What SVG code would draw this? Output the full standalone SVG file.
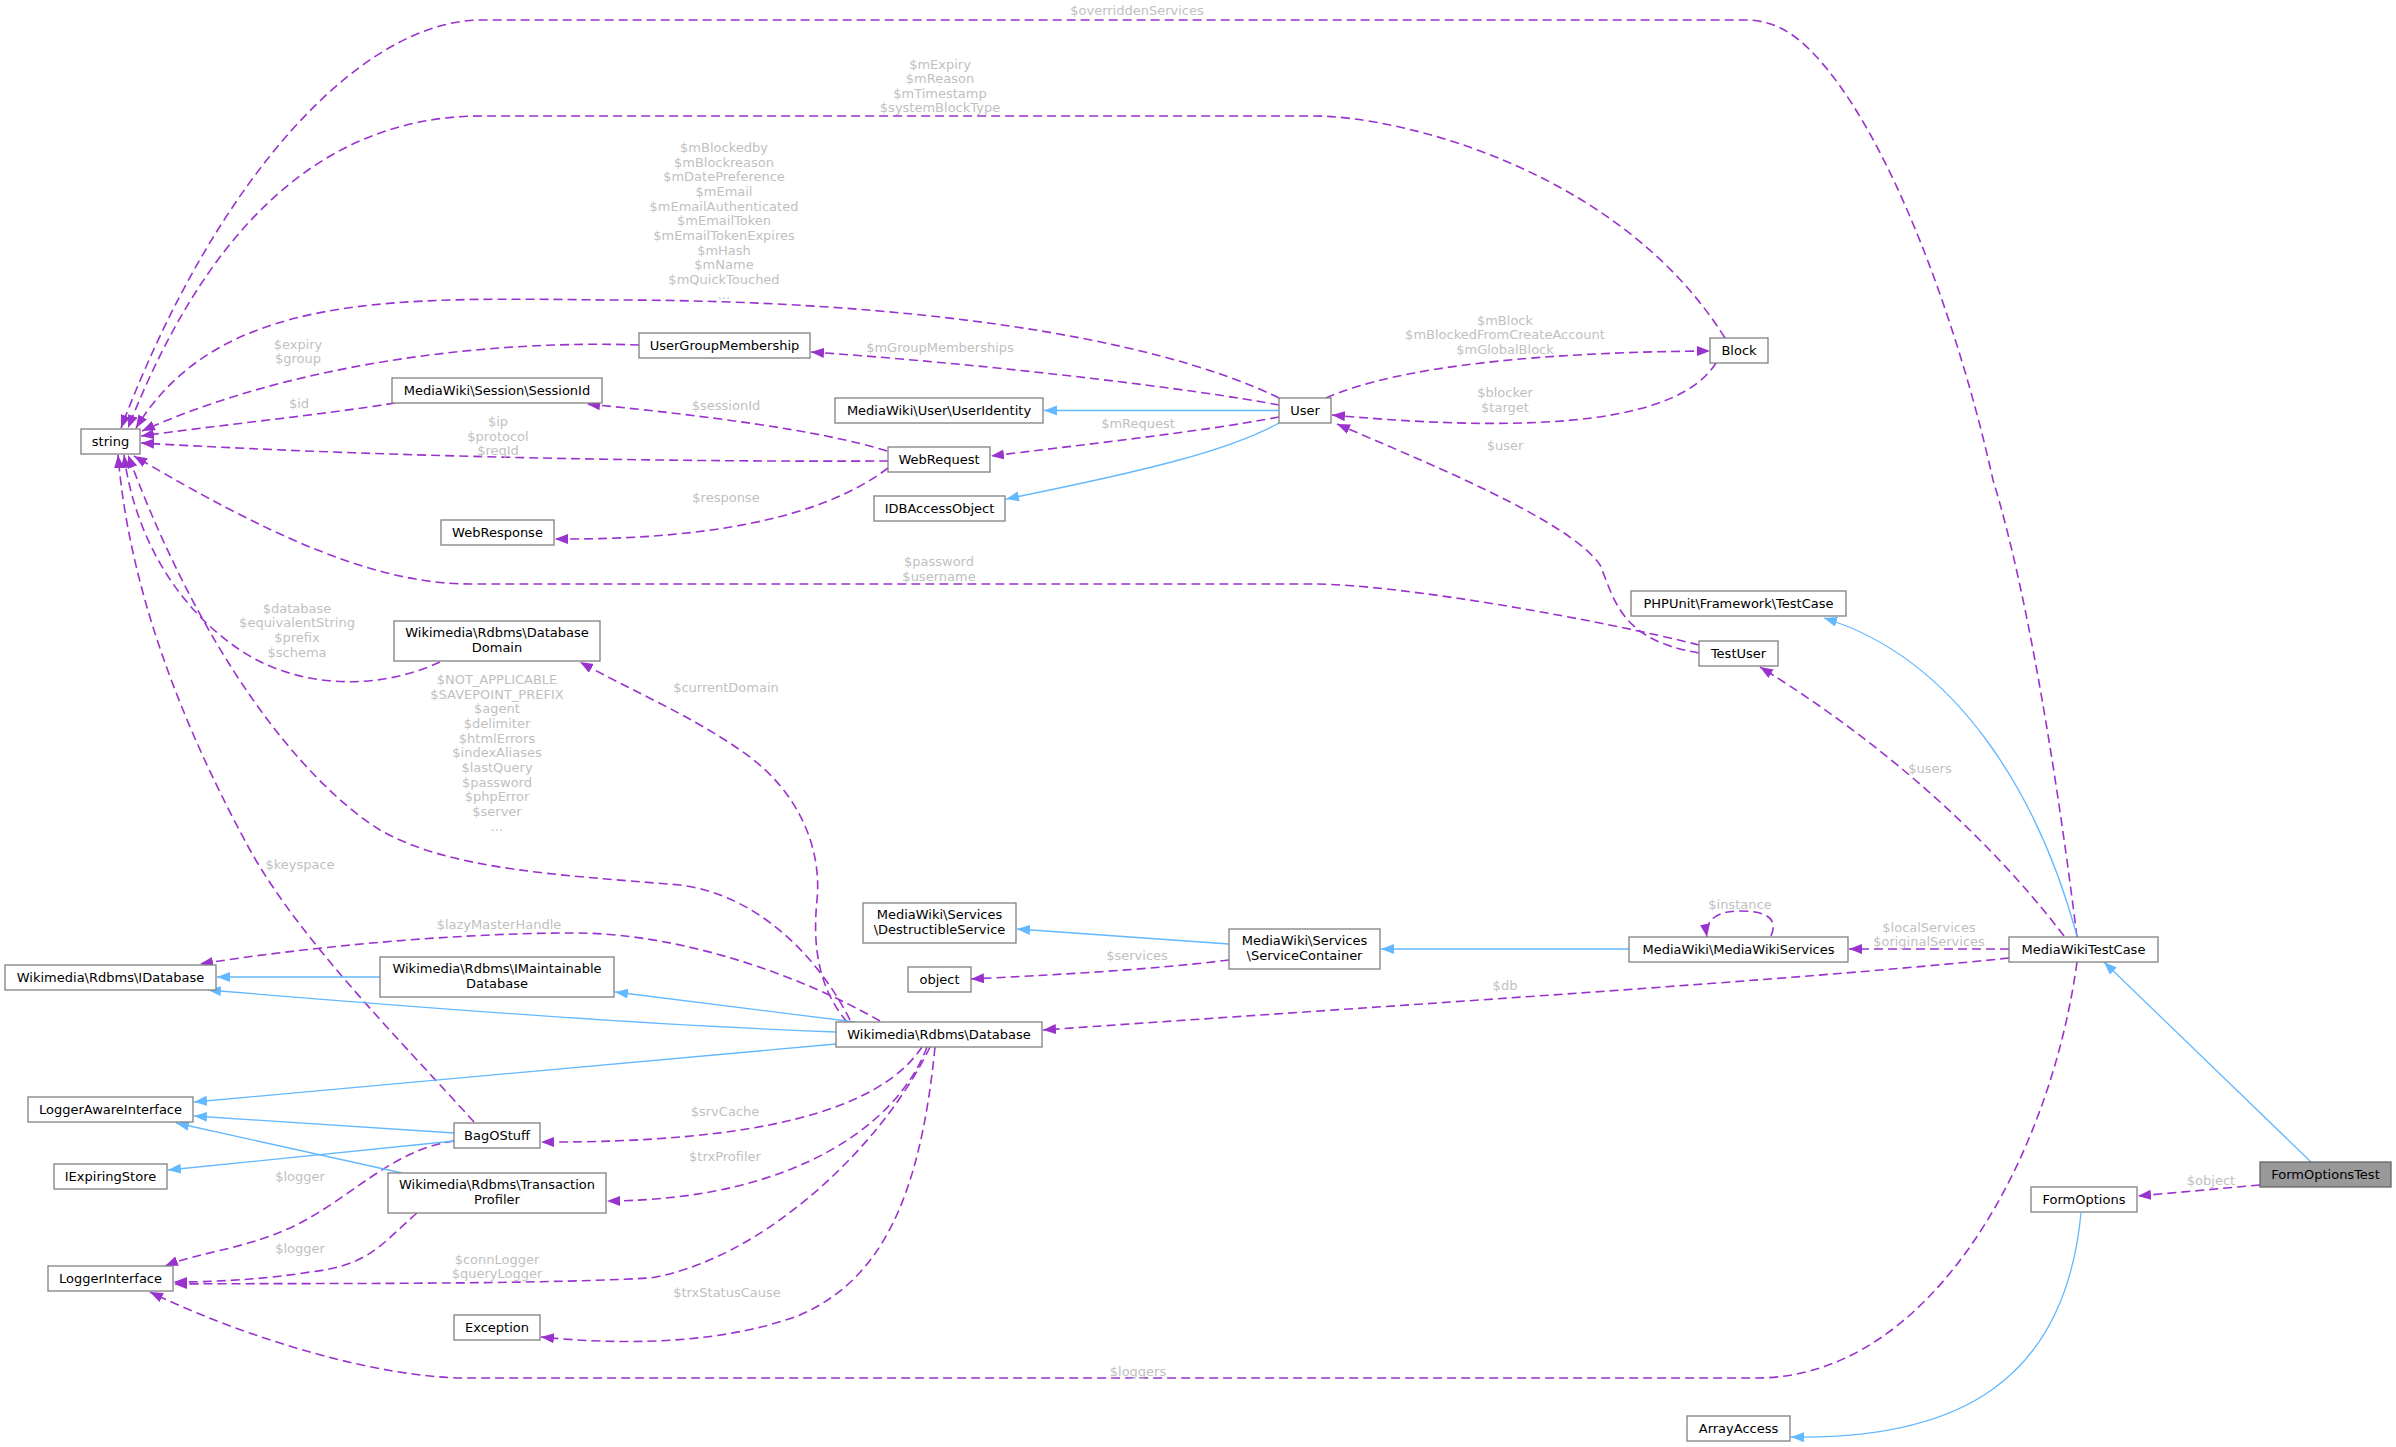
<svg xmlns="http://www.w3.org/2000/svg" width="2396" height="1447" viewBox="0 0 2396 1447">
<style>
.node rect{fill:#ffffff;stroke:#808080;stroke-width:1.3}
.node.hl rect{fill:#999999;stroke:#666666}
.node text{font-family:"DejaVu Sans",sans-serif;font-size:13px;fill:#000;text-anchor:middle}
.u{fill:none;stroke:#9a32cd;stroke-width:1.6;stroke-dasharray:9,5;marker-end:url(#ap)}
.i{fill:none;stroke:#63b8ff;stroke-width:1.3;marker-end:url(#ab)}
.lb{font-family:"DejaVu Sans",sans-serif;font-size:13px;fill:#bfbfbf;text-anchor:middle}
</style>
<defs>
<marker id="ap" markerUnits="userSpaceOnUse" markerWidth="14" markerHeight="11" refX="13" refY="5" orient="auto"><path d="M0,0 L13,5 L0,10 z" fill="#9a32cd"/></marker>
<marker id="ab" markerUnits="userSpaceOnUse" markerWidth="14" markerHeight="11" refX="13" refY="5" orient="auto"><path d="M0,0 L13,5 L0,10 z" fill="#63b8ff"/></marker>
</defs>
<rect width="2396" height="1447" fill="#ffffff"/>
<g id="edges">
<path class="u" d="M2077,937 C2060,800 2030,600 1993,480 C1960,330 1890,130 1810,50 C1790,30 1770,20 1745,20 L482,20 C360,20 215,180 121,428"/>
<text class="lb" x="1137" y="15">$overriddenServices</text>
<path class="u" d="M1725,338 C1620,170 1400,116 1314,116 L482,116 C310,116 200,245 128,428"/>
<text class="lb"><tspan x="940" y="68.5">$mExpiry</tspan><tspan x="940" y="83">$mReason</tspan><tspan x="940" y="97.5">$mTimestamp</tspan><tspan x="940" y="112">$systemBlockType</tspan></text>
<path class="u" d="M1279,398 C1150,335 900,300 612,300 C400,298 220,290 136,428"/>
<text class="lb"><tspan x="724" y="152">$mBlockedby</tspan><tspan x="724" y="166.7">$mBlockreason</tspan><tspan x="724" y="181.3">$mDatePreference</tspan><tspan x="724" y="196">$mEmail</tspan><tspan x="724" y="210.7">$mEmailAuthenticated</tspan><tspan x="724" y="225.3">$mEmailToken</tspan><tspan x="724" y="240">$mEmailTokenExpires</tspan><tspan x="724" y="254.7">$mHash</tspan><tspan x="724" y="269.3">$mName</tspan><tspan x="724" y="284">$mQuickTouched</tspan><tspan x="724" y="298.7">...</tspan></text>
<path class="u" d="M639,345 C500,340 300,360 142,431"/>
<text class="lb"><tspan x="298" y="348.5">$expiry</tspan><tspan x="298" y="363">$group</tspan></text>
<path class="u" d="M395,403 C320,415 220,425 141,436"/>
<text class="lb" x="299" y="407.5">$id</text>
<path class="u" d="M888,461 C700,462 400,458 141,443"/>
<text class="lb"><tspan x="498" y="426">$ip</tspan><tspan x="498" y="440.5">$protocol</tspan><tspan x="498" y="455">$reqId</tspan></text>
<path class="u" d="M887,451 C820,430 700,415 587,404"/>
<text class="lb" x="726" y="409.5">$sessionId</text>
<path class="u" d="M888,468 C820,520 700,540 555,539"/>
<text class="lb" x="726" y="501.5">$response</text>
<path class="u" d="M1279,405 C1200,390 1000,365 811,352"/>
<text class="lb" x="940" y="351.5">$mGroupMemberships</text>
<path class="u" d="M1279,417 C1200,432 1080,445 991,456"/>
<text class="lb" x="1138" y="427.5">$mRequest</text>
<path class="u" d="M1326,398 C1400,365 1550,352 1710,351"/>
<text class="lb"><tspan x="1505" y="324.5">$mBlock</tspan><tspan x="1505" y="339">$mBlockedFromCreateAccount</tspan><tspan x="1505" y="353.5">$mGlobalBlock</tspan></text>
<path class="u" d="M1716,363 C1680,420 1550,435 1332,415"/>
<text class="lb"><tspan x="1505" y="396.5">$blocker</tspan><tspan x="1505" y="411.5">$target</tspan></text>
<path class="u" d="M1699,653 C1620,640 1615,600 1600,565 C1570,520 1420,460 1337,424"/>
<text class="lb" x="1505" y="449.5">$user</text>
<path class="u" d="M1699,645 C1600,620 1400,584 1312,584 L470,584 C370,584 260,530 134,456"/>
<text class="lb"><tspan x="939" y="565.5">$password</tspan><tspan x="939" y="580.5">$username</tspan></text>
<path class="u" d="M847,1022 C820,990 812,950 817,900 C822,850 800,790 740,750 C690,715 630,690 580,662"/>
<text class="lb" x="726" y="691.5">$currentDomain</text>
<path class="u" d="M440,662 C380,690 300,690 240,650 C180,610 135,540 124,455"/>
<text class="lb"><tspan x="297" y="612.5">$database</tspan><tspan x="297" y="627">$equivalentString</tspan><tspan x="297" y="641.5">$prefix</tspan><tspan x="297" y="656.5">$schema</tspan></text>
<path class="u" d="M850,1020 C820,960 760,895 680,885 C560,875 450,870 380,830 C300,780 200,650 128,455"/>
<text class="lb"><tspan x="497" y="684">$NOT_APPLICABLE</tspan><tspan x="497" y="698.7">$SAVEPOINT_PREFIX</tspan><tspan x="497" y="713.3">$agent</tspan><tspan x="497" y="728">$delimiter</tspan><tspan x="497" y="742.7">$htmlErrors</tspan><tspan x="497" y="757.3">$indexAliases</tspan><tspan x="497" y="772">$lastQuery</tspan><tspan x="497" y="786.7">$password</tspan><tspan x="497" y="801.3">$phpError</tspan><tspan x="497" y="816">$server</tspan><tspan x="497" y="830.7">...</tspan></text>
<path class="u" d="M474,1122 C400,1040 300,940 250,850 C190,740 130,600 118,455"/>
<text class="lb" x="300" y="868.5">$keyspace</text>
<path class="u" d="M880,1021 C800,975 680,933 574,933 C450,933 300,948 200,964"/>
<text class="lb" x="499" y="928.5">$lazyMasterHandle</text>
<path class="u" d="M922,1047 C880,1110 760,1143 541,1142"/>
<text class="lb" x="725" y="1115.5">$srvCache</text>
<path class="u" d="M927,1047 C900,1120 800,1200 607,1201"/>
<text class="lb" x="725" y="1160.5">$trxProfiler</text>
<path class="u" d="M930,1047 C880,1150 760,1260 650,1278 C520,1285 300,1283 174,1284"/>
<text class="lb"><tspan x="497" y="1263.5">$connLogger</tspan><tspan x="497" y="1278">$queryLogger</tspan></text>
<path class="u" d="M935,1047 C920,1200 880,1280 800,1315 C720,1345 620,1345 541,1337"/>
<text class="lb" x="727" y="1296.5">$trxStatusCause</text>
<path class="u" d="M454,1141 C390,1150 350,1200 290,1228 C240,1250 200,1252 165,1266"/>
<text class="lb" x="300" y="1180.5">$logger</text>
<path class="u" d="M417,1213 C380,1245 370,1265 310,1272 C260,1280 210,1282 174,1282"/>
<text class="lb" x="300" y="1252.5">$logger</text>
<path class="u" d="M2077,962 C2050,1160 1930,1378 1757,1378 L467,1378 C380,1378 250,1340 150,1292"/>
<text class="lb" x="1138" y="1375.5">$loggers</text>
<path class="u" d="M1229,960 C1150,970 1050,975 971,979"/>
<text class="lb" x="1137" y="959.5">$services</text>
<path class="u" d="M1771,936 C1780,915 1760,911 1740,911 C1720,911 1704,918 1707,937"/>
<text class="lb" x="1740" y="909">$instance</text>
<path class="u" d="M2009,949 L1849,949"/>
<text class="lb"><tspan x="1929" y="931.5">$localServices</tspan><tspan x="1929" y="945.5">$originalServices</tspan></text>
<path class="u" d="M2009,958 C1800,980 1400,1005 1043,1030"/>
<text class="lb" x="1505" y="989.5">$db</text>
<path class="u" d="M2064,936 C1960,800 1830,710 1760,667"/>
<text class="lb" x="1930" y="772.5">$users</text>
<path class="u" d="M2260,1185 L2138,1196"/>
<text class="lb" x="2211" y="1184.5">$object</text>
<path class="i" d="M1279,410.5 L1044,410.5"/>
<path class="i" d="M1279,423 C1230,450 1150,470 1006,499"/>
<path class="i" d="M1229,944 L1017,929"/>
<path class="i" d="M1629,949 L1381,949"/>
<path class="i" d="M2077,936 C2040,800 1960,660 1824,618"/>
<path class="i" d="M2311,1162 L2104,962"/>
<path class="i" d="M2081,1213 C2065,1380 1960,1440 1791,1437"/>
<path class="i" d="M380,977 L217,977"/>
<path class="i" d="M855,1022 L615,992"/>
<path class="i" d="M836,1032 C650,1025 450,1010 208,990"/>
<path class="i" d="M836,1044 L194,1102"/>
<path class="i" d="M454,1133 L194,1116"/>
<path class="i" d="M454,1141 L168,1170"/>
<path class="i" d="M402,1173 L176,1123"/>
</g>
<g id="node-string" class="node"><rect x="81" y="429" width="59" height="25"/><text x="110.5" y="446">string</text></g>
<g id="node-UserGroupMembership" class="node"><rect x="639" y="333" width="171" height="25"/><text x="724.5" y="350">UserGroupMembership</text></g>
<g id="node-SessionId" class="node"><rect x="392" y="378" width="210" height="25"/><text x="497" y="395">MediaWiki\Session\SessionId</text></g>
<g id="node-UserIdentity" class="node"><rect x="835" y="398" width="208" height="25"/><text x="939" y="415">MediaWiki\User\UserIdentity</text></g>
<g id="node-WebRequest" class="node"><rect x="888" y="447" width="102" height="25"/><text x="939" y="464">WebRequest</text></g>
<g id="node-User" class="node"><rect x="1279" y="398" width="52" height="25"/><text x="1305" y="415">User</text></g>
<g id="node-Block" class="node"><rect x="1710" y="338" width="58" height="25"/><text x="1739" y="355">Block</text></g>
<g id="node-WebResponse" class="node"><rect x="441" y="520" width="113" height="25"/><text x="497.5" y="537">WebResponse</text></g>
<g id="node-IDBAccessObject" class="node"><rect x="874" y="496" width="131" height="25"/><text x="939.5" y="513">IDBAccessObject</text></g>
<g id="node-DatabaseDomain" class="node"><rect x="394" y="621" width="206" height="40"/><text x="497" y="637">Wikimedia\Rdbms\Database</text><text x="497" y="652">Domain</text></g>
<g id="node-PHPUnitTestCase" class="node"><rect x="1631" y="591" width="215" height="25"/><text x="1738.5" y="608">PHPUnit\Framework\TestCase</text></g>
<g id="node-TestUser" class="node"><rect x="1699" y="641" width="79" height="25"/><text x="1738.5" y="658">TestUser</text></g>
<g id="node-DestructibleService" class="node"><rect x="863" y="903" width="153" height="40"/><text x="939.5" y="919">MediaWiki\Services</text><text x="939.5" y="934">\DestructibleService</text></g>
<g id="node-object" class="node"><rect x="908" y="967" width="63" height="25"/><text x="939.5" y="984">object</text></g>
<g id="node-ServiceContainer" class="node"><rect x="1229" y="929" width="151" height="40"/><text x="1304.5" y="945">MediaWiki\Services</text><text x="1304.5" y="960">\ServiceContainer</text></g>
<g id="node-MediaWikiServices" class="node"><rect x="1629" y="937" width="219" height="25"/><text x="1738.5" y="954">MediaWiki\MediaWikiServices</text></g>
<g id="node-MediaWikiTestCase" class="node"><rect x="2009" y="937" width="149" height="25"/><text x="2083.5" y="954">MediaWikiTestCase</text></g>
<g id="node-IDatabase" class="node"><rect x="5" y="965" width="211" height="25"/><text x="110.5" y="982">Wikimedia\Rdbms\IDatabase</text></g>
<g id="node-IMaintainableDatabase" class="node"><rect x="380" y="957" width="234" height="40"/><text x="497" y="973">Wikimedia\Rdbms\IMaintainable</text><text x="497" y="988">Database</text></g>
<g id="node-Database" class="node"><rect x="836" y="1022" width="206" height="25"/><text x="939" y="1039">Wikimedia\Rdbms\Database</text></g>
<g id="node-LoggerAwareInterface" class="node"><rect x="28" y="1097" width="165" height="25"/><text x="110.5" y="1114">LoggerAwareInterface</text></g>
<g id="node-BagOStuff" class="node"><rect x="454" y="1123" width="86" height="25"/><text x="497" y="1140">BagOStuff</text></g>
<g id="node-IExpiringStore" class="node"><rect x="54" y="1164" width="113" height="25"/><text x="110.5" y="1181">IExpiringStore</text></g>
<g id="node-TransactionProfiler" class="node"><rect x="388" y="1173" width="218" height="40"/><text x="497" y="1189">Wikimedia\Rdbms\Transaction</text><text x="497" y="1204">Profiler</text></g>
<g id="node-LoggerInterface" class="node"><rect x="48" y="1266" width="125" height="25"/><text x="110.5" y="1283">LoggerInterface</text></g>
<g id="node-Exception" class="node"><rect x="454" y="1315" width="86" height="25"/><text x="497" y="1332">Exception</text></g>
<g id="node-FormOptionsTest" class="node hl"><rect x="2260" y="1162" width="131" height="25"/><text x="2325.5" y="1179">FormOptionsTest</text></g>
<g id="node-FormOptions" class="node"><rect x="2031" y="1187" width="106" height="25"/><text x="2084" y="1204">FormOptions</text></g>
<g id="node-ArrayAccess" class="node"><rect x="1687" y="1416" width="103" height="25"/><text x="1738.5" y="1433">ArrayAccess</text></g>
</svg>
